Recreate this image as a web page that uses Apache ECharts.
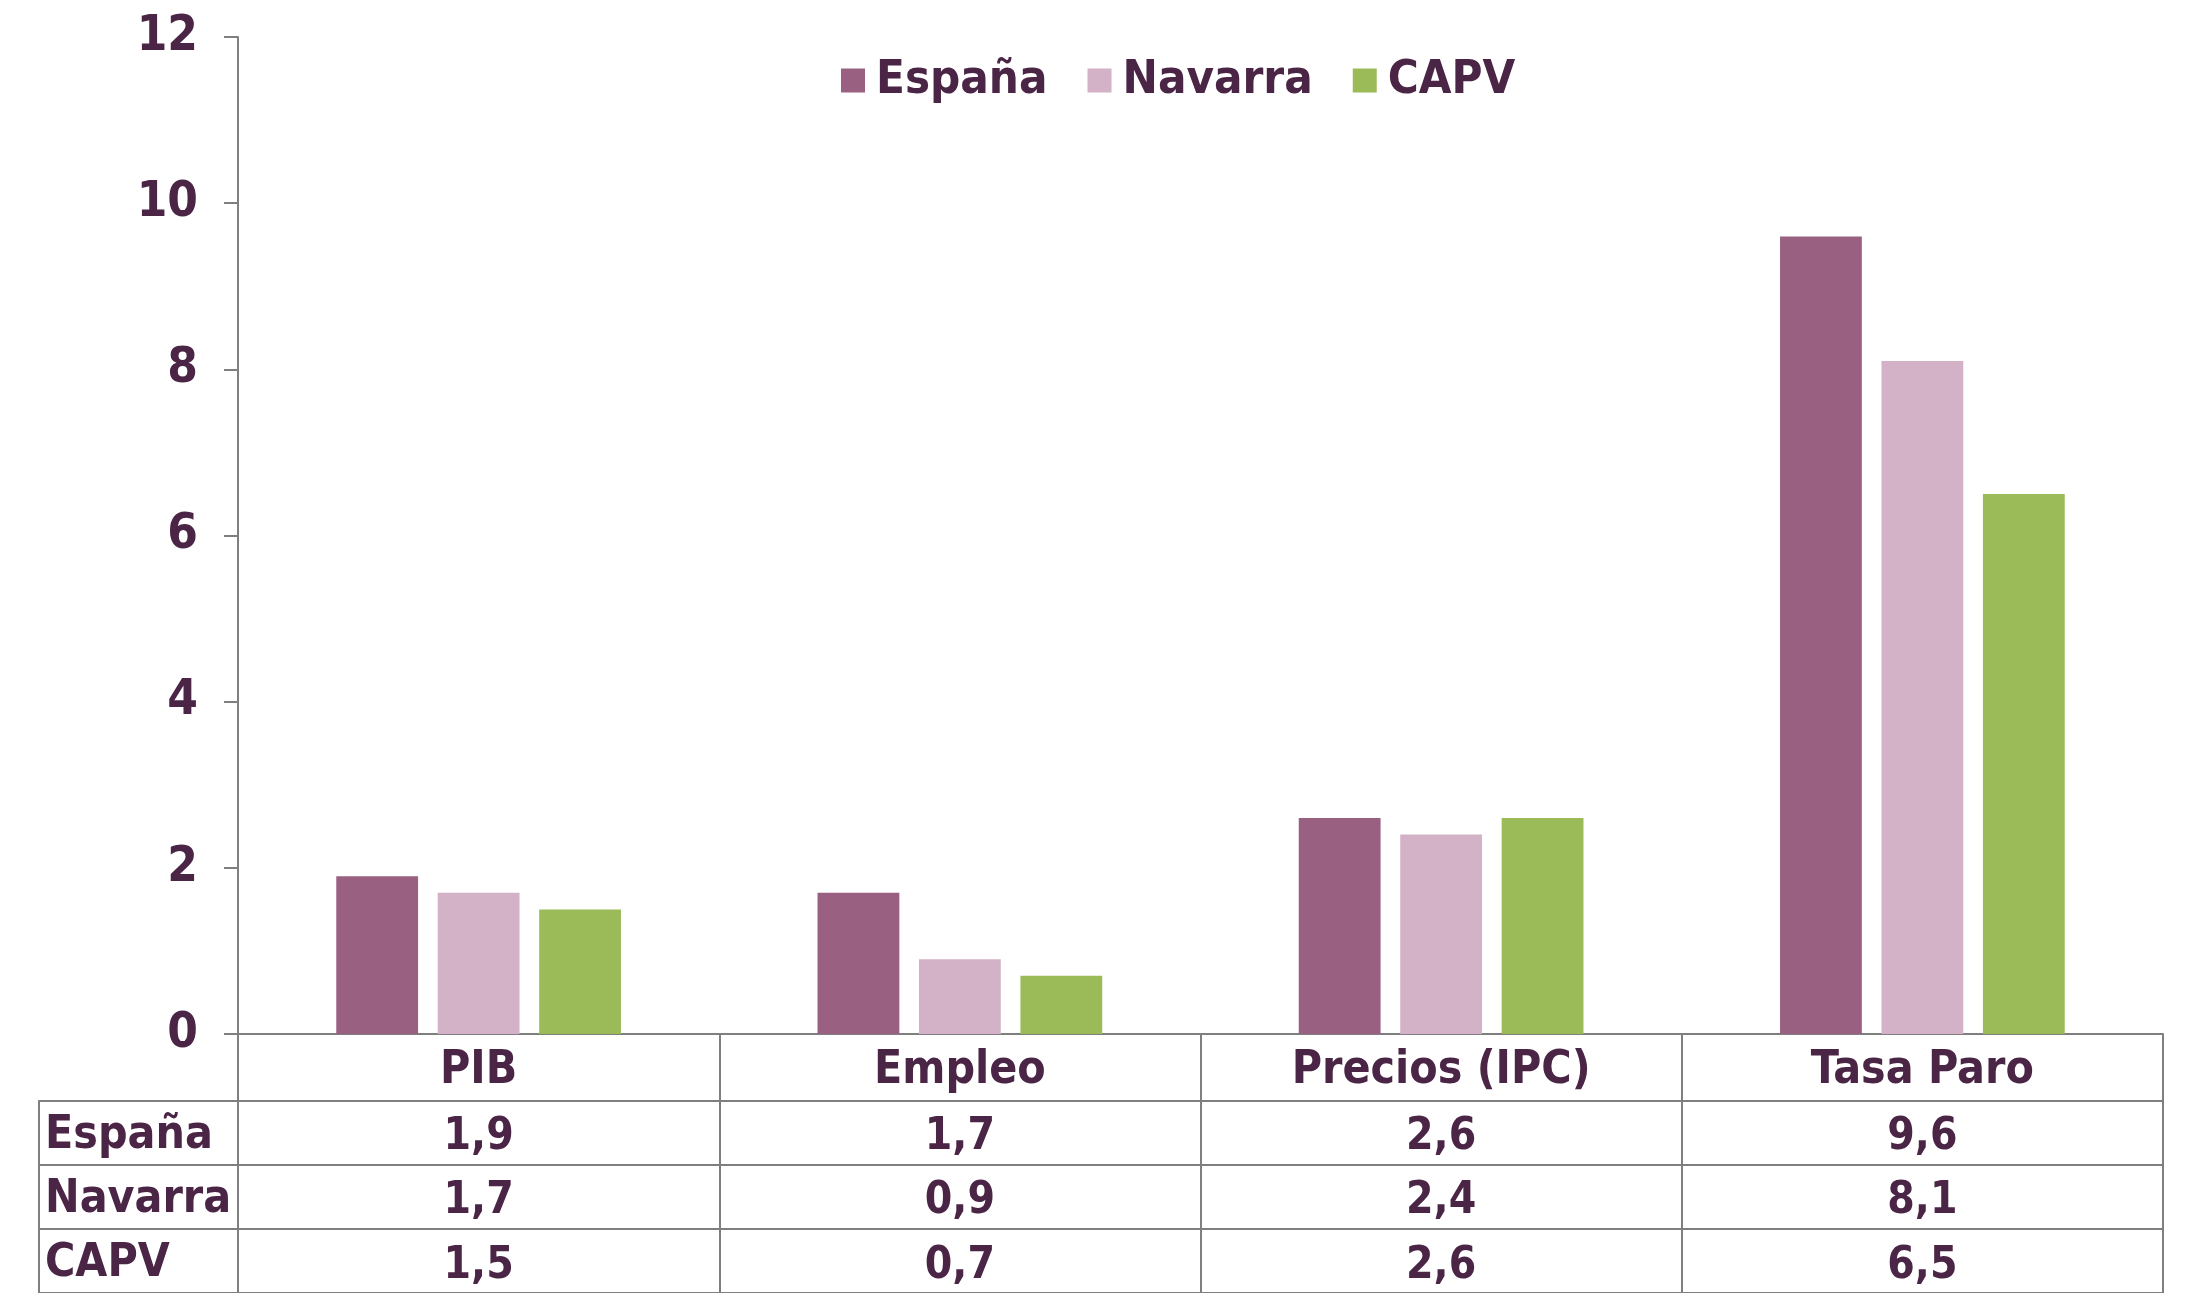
<!DOCTYPE html>
<html>
<head>
<meta charset="utf-8">
<title>España, Navarra, CAPV</title>
<script src="https://cdn.jsdelivr.net/npm/echarts@6/dist/echarts.min.js"></script>
<style>
  html, body { margin: 0; padding: 0; background: #fff; }
  #chart { width: 2194px; height: 1293px; }
</style>
</head>
<body>
<div id="chart"></div>
<script>
// datos
const categories = ['PIB', 'Empleo', 'Precios (IPC)', 'Tasa Paro']
const seriesNames = ['España', 'Navarra', 'CAPV']
const espana = [1.9, 1.7, 2.6, 9.6]
const navarra = [1.7, 0.9, 2.4, 8.1]
const capv = [1.5, 0.7, 2.6, 6.5]
const yTicks = [0, 2, 4, 6, 8, 10, 12]

const seriesValues = [espana, navarra, capv]
const colors = ['#9A6082', '#D3B1C6', '#9BBB59']
const textColor = '#4B2546'
const lineColor = '#7F7F7F'
const font = '"DejaVu Sans Condensed", "DejaVu Sans", sans-serif'

const fmt = v => String(v).replace('.', ',')

const chart = echarts.init(document.getElementById('chart'))

const option = {
  animation: false,
  textStyle: { fontFamily: font, color: textColor },
  legend: {
    top: 52,
    left: 836,
    itemWidth: 24,
    itemHeight: 24,
    itemGap: 40,
    icon: 'rect',
    data: seriesNames,
    textStyle: { fontFamily: font, fontSize: 47, fontWeight: 'bold', color: textColor, padding: [0, 0, 0, 6] }
  },
  grid: [
    { left: 238, right: 31, top: 37, bottom: 259 },
    { left: 39, right: 31, top: 1101, height: 195 }
  ],
  xAxis: [
    {
      gridIndex: 0,
      type: 'category',
      data: categories,
      axisLine: { lineStyle: { color: lineColor, width: 2 } },
      // ticks bajan hasta el final para hacer de columnas de la tabla
      axisTick: { show: true, interval: 0, alignWithLabel: false, length: 262, lineStyle: { color: lineColor, width: 2 } },
      axisLabel: {
        margin: 4,
        interval: 0,
        formatter: (name, i) => {
          const rows = seriesValues.map(s => '{v|' + fmt(s[i]) + '}')
          return ['{h|' + name + '}'].concat(rows).join('\n')
        },
        rich: {
          h: { fontFamily: font, fontSize: 46, fontWeight: 'bold', color: textColor, lineHeight: 67 },
          v: { fontFamily: font, fontSize: 44, fontWeight: 'bold', color: textColor, lineHeight: 64.7 }
        }
      }
    },
    { gridIndex: 1, type: 'value', show: false }
  ],
  yAxis: [
    {
      gridIndex: 0,
      type: 'value',
      min: 0,
      max: 12,
      interval: 2,
      axisLine: { show: true, lineStyle: { color: lineColor, width: 2 } },
      axisTick: { show: true, length: 14, lineStyle: { color: lineColor, width: 2 } },
      splitLine: { show: false },
      axisLabel: {
        margin: 40,
        fontFamily: font,
        fontSize: 49,
        fontWeight: 'bold',
        color: textColor,
        customValues: yTicks
      }
    },
    {
      // filas de la tabla
      gridIndex: 1,
      type: 'category',
      inverse: true,
      data: seriesNames,
      axisLine: { show: true, lineStyle: { color: lineColor, width: 2 } },
      axisTick: { show: false },
      splitLine: { show: true, lineStyle: { color: lineColor, width: 2 } },
      axisLabel: {
        inside: true,
        margin: 6,
        verticalAlign: 'top',
        padding: [-20, 0, 0, 0],
        fontFamily: font,
        fontSize: 46,
        fontWeight: 'bold',
        color: textColor
      }
    }
  ],
  series: seriesNames.map((name, k) => ({
    name: name,
    type: 'bar',
    xAxisIndex: 0,
    yAxisIndex: 0,
    data: seriesValues[k],
    barWidth: '17%',
    barGap: '24%',
    itemStyle: { color: colors[k] }
  }))
}

chart.setOption(option)
</script>
</body>
</html>
